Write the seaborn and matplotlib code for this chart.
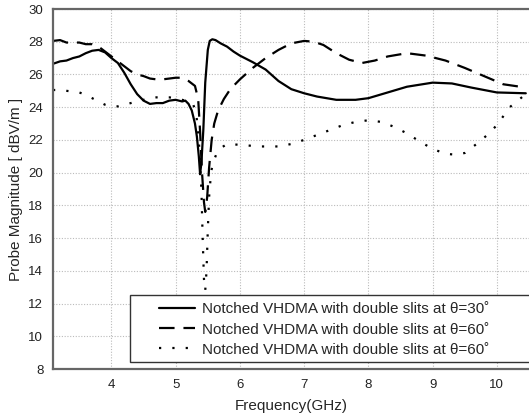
import matplotlib
matplotlib.use("Agg")
import matplotlib.pyplot as plt
import seaborn as sns
from matplotlib.patches import Rectangle

# ---------------- data ----------------
x30 = [3.09, 3.2, 3.3, 3.4, 3.5, 3.6, 3.7, 3.8, 3.9, 4.0, 4.1, 4.2, 4.3, 4.4, 4.5, 4.6,
       4.7, 4.8, 4.9, 5.0, 5.1, 5.15, 5.2, 5.25, 5.3, 5.33, 5.36, 5.38, 5.4, 5.43, 5.46,
       5.5, 5.53, 5.57, 5.62, 5.7, 5.8, 5.9, 6.0, 6.2, 6.4, 6.6, 6.8, 7.0, 7.2, 7.5, 7.8,
       8.0, 8.3, 8.6, 9.0, 9.3, 9.6, 10.0, 10.45]
y30 = [26.65, 26.8, 26.85, 27.0, 27.1, 27.3, 27.45, 27.5, 27.35, 27.0, 26.7, 26.1, 25.4,
       24.8, 24.4, 24.2, 24.25, 24.25, 24.4, 24.45, 24.35, 24.4, 24.2, 23.8, 23.0, 22.2,
       21.0, 19.9, 20.6, 22.6, 25.5, 27.5, 28.05, 28.15, 28.1, 27.9, 27.7, 27.4, 27.15,
       26.75, 26.3, 25.6, 25.1, 24.85, 24.65, 24.45, 24.45, 24.55, 24.9, 25.25, 25.5,
       25.45, 25.2, 24.9, 24.85]

x60a = [3.09, 3.2, 3.3, 3.4, 3.5, 3.6, 3.7, 3.8, 3.9, 4.0, 4.1, 4.2, 4.3, 4.4, 4.5, 4.6,
        4.7, 4.8, 4.9, 5.0, 5.1, 5.2, 5.3, 5.35, 5.38, 5.41, 5.44, 5.46, 5.49, 5.52, 5.56,
        5.6, 5.66, 5.75, 5.85, 6.0, 6.2, 6.4, 6.6, 6.8, 7.0, 7.15, 7.3, 7.5, 7.7, 7.9,
        8.1, 8.3, 8.6, 8.9, 9.2, 9.5, 9.8, 10.1, 10.45]
y60a = [28.05, 28.1, 27.95, 27.95, 27.95, 27.85, 27.85, 27.7, 27.4, 27.1, 26.8, 26.5,
        26.2, 26.0, 25.9, 25.75, 25.7, 25.7, 25.75, 25.8, 25.8, 25.6, 25.3, 24.5, 22.5,
        20.0, 18.2, 17.6, 18.5, 20.3, 22.0, 23.0, 23.8, 24.5, 25.1, 25.7, 26.4, 27.0,
        27.5, 27.9, 28.05, 28.0, 27.8, 27.3, 26.9, 26.7, 26.85, 27.1, 27.3, 27.15, 26.85,
        26.4, 25.9, 25.4, 25.2]

x60b = [3.09, 3.2, 3.3, 3.4, 3.5, 3.6, 3.7, 3.8, 3.9, 4.0, 4.1, 4.2, 4.3, 4.4, 4.5, 4.6,
        4.7, 4.8, 4.9, 5.0, 5.1, 5.2, 5.27, 5.32, 5.36, 5.4, 5.42, 5.44, 5.46, 5.48, 5.5,
        5.52, 5.55, 5.58, 5.63, 5.7, 5.8, 6.0, 6.3, 6.6, 6.8, 7.0, 7.2, 7.4, 7.6, 7.8,
        8.0, 8.2, 8.4, 8.6, 8.8, 9.0, 9.2, 9.35, 9.5, 9.7, 9.85, 10.0, 10.2, 10.45]
y60b = [25.05, 25.05, 25.0, 24.95, 24.9, 24.75, 24.55, 24.35, 24.15, 24.05, 24.05, 24.15,
        24.25, 24.35, 24.45, 24.55, 24.6, 24.6, 24.6, 24.55, 24.45, 24.35, 24.2, 23.6,
        22.0, 19.0, 16.0, 13.5, 12.8, 14.0, 16.5, 18.5, 20.0, 20.6, 21.1, 21.5, 21.75,
        21.7, 21.6, 21.6, 21.75, 22.0, 22.3, 22.6, 22.9, 23.1, 23.2, 23.1, 22.8, 22.4,
        21.9, 21.45, 21.15, 21.1, 21.2, 21.8, 22.3, 22.9, 24.0, 24.8]

labels = ["Notched VHDMA with double slits at θ=30˚",
          "Notched VHDMA with double slits at θ=60˚",
          "Notched VHDMA with double slits at θ=60˚"]
xticks = [4, 5, 6, 7, 8, 9, 10]
yticks = [8, 10, 12, 14, 16, 18, 20, 22, 24, 26, 28, 30]

# ---------------- style ----------------
sns.set_style("white")
plt.rcParams["font.family"] = ["Liberation Sans", "DejaVu Sans"]

fig = plt.figure(figsize=(5.29, 4.19), dpi=100)
ax = fig.add_axes([53 / 529, 50 / 419, 476 / 529, 360 / 419])

sns.lineplot(x=x30, y=y30, ax=ax, color="black", lw=1.6, sort=False,
             estimator=None, label=labels[0])
sns.lineplot(x=x60a, y=y60a, ax=ax, color="black", lw=1.6, sort=False,
             estimator=None, label=labels[1])
sns.lineplot(x=x60b, y=y60b, ax=ax, color="black", lw=1.6, sort=False,
             estimator=None, label=labels[2])
lines = ax.get_lines()
lines[1].set_dashes([7, 4])
lines[2].set_dashes([1, 5])

ax.set_xlim(3.09, 10.45)
ax.set_ylim(8, 30)
ax.set_xticks(xticks)
ax.set_yticks(yticks)
ax.set_xticks([x + 0.5 for x in [3] + xticks], minor=True)
ax.set_yticks([y + 1 for y in yticks[:-1]], minor=True)
ax.tick_params(axis="both", which="major", direction="in", length=5, width=1.2,
               colors="#444444", labelcolor="#222222", labelsize=9.5, pad=7)
ax.tick_params(axis="both", which="minor", direction="in", length=3, width=1,
               colors="#444444")
ax.tick_params(top=False, right=False, which="both")

ax.grid(True, which="major", color="#bbbbbb", linestyle=(0, (1, 1.5)), lw=0.8)
for s in ["left", "bottom", "top"]:
    ax.spines[s].set_color("#666666")
    ax.spines[s].set_linewidth(1.6)
ax.spines["right"].set_visible(False)

ax.set_xlabel("Frequency(GHz)", fontsize=11, labelpad=6)
ax.set_ylabel("Probe Magnitude [ dBV/m ]", fontsize=11, labelpad=4)

# legend box
box = Rectangle(((130 - 53) / 476, 7 / 360), 1.0, 67 / 360, transform=ax.transAxes,
                facecolor="white", edgecolor="#333333", lw=1.0, zorder=4, clip_on=False)
ax.add_patch(box)
leg = ax.legend(loc="lower left", bbox_to_anchor=((145 - 53) / 476, -0.004),
                frameon=False, fontsize=11, handlelength=2.35, handletextpad=0.5,
                labelspacing=0.4, borderpad=0.4)
leg.set_zorder(5)

fig.savefig("out.png", dpi=100)
